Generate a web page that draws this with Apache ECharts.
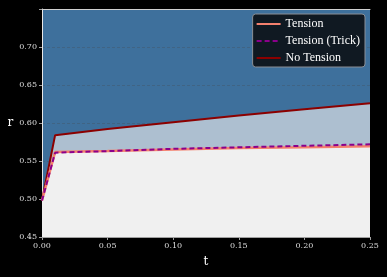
<!DOCTYPE html>
<html><head><meta charset="utf-8">
<script src="https://cdn.jsdelivr.net/npm/echarts@6/dist/echarts.min.js"></script>
<style>html,body{margin:0;padding:0;background:#000;}#c{width:387px;height:277px;}</style>
</head><body><div id="c"></div>
<script>
const tValues = [0, 0.01, 0.05, 0.10, 0.15, 0.20, 0.25];
const tension = [0.498, 0.562, 0.563, 0.565, 0.567, 0.568, 0.5695];
const tensionTrick = [0.498, 0.561, 0.563, 0.566, 0.568, 0.570, 0.572];
const noTension = [0.498, 0.584, 0.592, 0.601, 0.610, 0.618, 0.626];
const seriesNames = ['Tension', 'Tension (Trick)', 'No Tension'];

const pairs = arr => tValues.map((t, i) => [t, arr[i]]);
const font = 'DejaVu Serif';
const chart = echarts.init(document.getElementById('c'));
chart.setOption({
  backgroundColor: '#000',
  animation: false,
  grid: {left: 42, right: 17, top: 9, bottom: 40, show: true, backgroundColor: '#3e709c', borderWidth: 0},
  legend: {
    data: seriesNames, orient: 'vertical', right: 22, top: 14,
    backgroundColor: '#101922', borderColor: '#8a8f96', borderWidth: 1, borderRadius: 3,
    padding: [4, 5, 3, 3], itemGap: 5, itemWidth: 24, itemHeight: 10,
    itemStyle: {opacity: 0}, lineStyle: {width: 2},
    textStyle: {color: '#fff', fontFamily: 'Liberation Serif', fontSize: 12}
  },
  xAxis: [{
    type: 'value', min: 0, max: 0.25, interval: 0.05,
    name: 't', nameLocation: 'middle', nameGap: 19,
    nameTextStyle: {color: '#fff', fontFamily: font, fontSize: 12},
    axisLine: {lineStyle: {color: '#a0a0a0', width: 1}},
    axisTick: {show: true, length: 3, lineStyle: {color: '#a0a0a0'}},
    axisLabel: {color: '#ddd', fontFamily: font, fontSize: 8, formatter: v => v.toFixed(2), margin: 5},
    splitLine: {show: false}
  }, {
    type: 'value', position: 'top', min: 0, max: 0.25,
    axisLine: {show: true, lineStyle: {color: '#d0d0d0', width: 1}},
    axisTick: {show: false}, axisLabel: {show: false}, splitLine: {show: false}
  }],
  yAxis: {
    type: 'value', min: 0.45, max: 0.75, interval: 0.05,
    name: 'r', nameLocation: 'middle', nameGap: 27, nameRotate: 0,
    nameTextStyle: {color: '#fff', fontFamily: font, fontSize: 12, padding: [0, 0, 12, 0]},
    axisLine: {show: true, lineStyle: {color: '#e8e8e8', width: 1}},
    axisTick: {show: true, length: 3, lineStyle: {color: '#a0a0a0'}},
    axisLabel: {color: '#ddd', fontFamily: font, fontSize: 8, margin: 5,
      formatter: v => v > 0.72 ? '' : v.toFixed(2)},
    splitLine: {show: true, lineStyle: {color: 'rgba(70,70,70,0.35)', type: [3, 2], width: 0.8}}
  },
  series: [
    {name: 'No Tension', type: 'line', data: pairs(noTension), showSymbol: false, symbol: 'none',
     lineStyle: {color: '#8b0000', width: 2}, itemStyle: {color: '#8b0000'},
     areaStyle: {color: '#adbfd0', opacity: 1, origin: 'start'}, z: 2},
    {name: 'Tension', type: 'line', data: pairs(tension), showSymbol: false, symbol: 'none',
     lineStyle: {color: '#f4806e', width: 2.5}, itemStyle: {color: '#f4806e'},
     areaStyle: {color: '#f0f0f0', opacity: 1, origin: 'start'}, z: 3},
    {name: 'Tension (Trick)', type: 'line', data: pairs(tensionTrick), showSymbol: false, symbol: 'none',
     lineStyle: {color: '#8b008b', width: 2, type: [5, 3]}, itemStyle: {color: '#8b008b'}, z: 4}
  ]
});
</script></body></html>
